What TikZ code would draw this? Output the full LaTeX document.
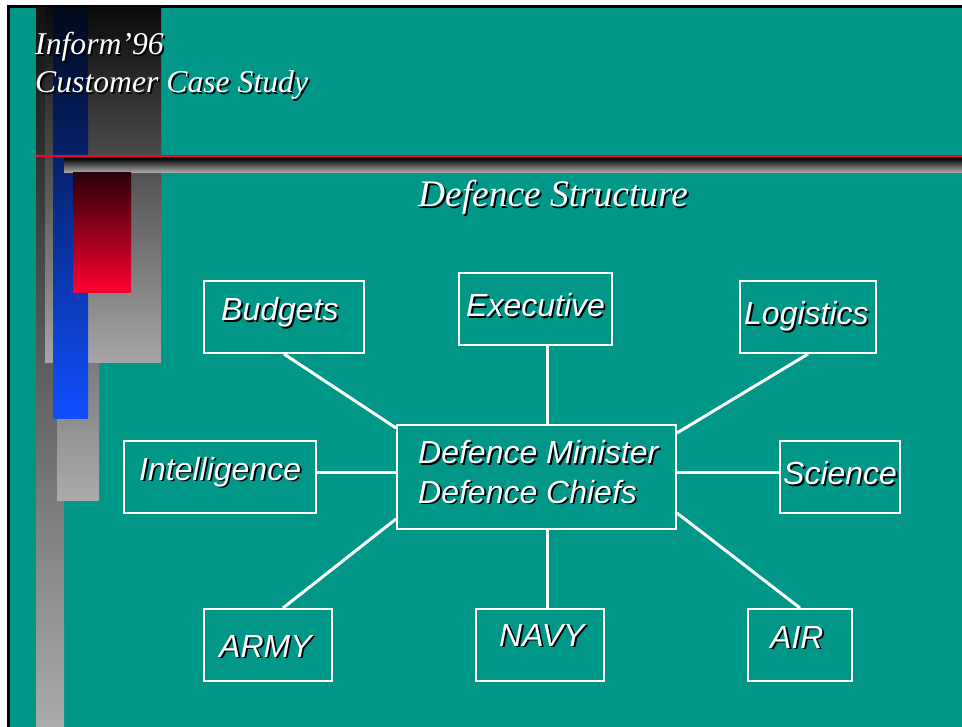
\documentclass[tikz,border=0pt]{standalone}
\usepackage{fontspec}
\setmainfont{Liberation Serif}
\newfontfamily\boxfont{Liberation Sans}
\usetikzlibrary{calc}
\definecolor{SlideClr}{RGB}{0,150,136}
\definecolor{RuleClr}{RGB}{255,0,48}
\definecolor{NavyTopClr}{RGB}{0,8,26}
\definecolor{NavyBotClr}{RGB}{17,80,255}
\definecolor{WineTopClr}{RGB}{42,0,8}

% white text with a black drop shadow
\newcommand{\shadowed}[1]{\makebox[0pt][l]{\hspace*{1.8pt}\raisebox{-1.8pt}{\color{black}#1}}#1}

\begin{document}
\begin{tikzpicture}[x=1pt,y=-1pt,
  box/.style={draw=white,line width=2pt,inner sep=0pt,minimum height=72pt},
  boxtext/.style={anchor=base west,inner sep=0pt,text=white,font=\boxfont\itshape\fontsize{32}{38}\selectfont},
  titletext/.style={anchor=base west,inner sep=0pt,text=white,font=\itshape\fontsize{31.7}{38}\selectfont},
  link/.style={white,line width=3pt}]
\useasboundingbox (0,0) rectangle (962,727);

% Slide background and frame.
\fill[white] (0,0) rectangle (962,727);
\filldraw[fill=SlideClr,draw=black,line width=2.5pt] (8.5,6.5) rectangle (990,750);

% Grey and coloured bars down the left side.
\shade[top color=black!93,bottom color=black!33] (36,8) rectangle (64,727);
\shade[top color=black!67,bottom color=black!33] (57,250) rectangle (99,500);
\shade[top color=black!96,bottom color=black!35] (45,8) rectangle (161,363);
\shade[top color=NavyTopClr,bottom color=NavyBotClr] (53,8) rectangle (88,419);

% Red rule and shaded bar under the heading.
\fill[RuleClr] (36,155) rectangle (962,157.5);
\shade[top color=black,bottom color=black!30] (64,158) rectangle (962,173);
\shade[top color=WineTopClr,bottom color=RuleClr] (73,173) rectangle (131,293);

% Headings.
\node[titletext] (inform) at (35,55) {\shadowed{Inform’96}};
\node[titletext] (study) at (35,93) {\shadowed{Customer Case Study}};
\node[titletext,font=\itshape\fontsize{37.4}{44}\selectfont] (structure) at (418,207) {\shadowed{Defence Structure}};

% Boxes of the chart.
\node[box,minimum width=160pt] (budgets) at (284,317) {};
\node[box,minimum width=153pt] (executive) at (535.5,309) {};
\node[box,minimum width=136pt] (logistics) at (808,317) {};
\node[box,minimum width=192pt] (intelligence) at (220,477) {};
\node[box,minimum width=279pt,minimum height=104pt] (chief) at (536.5,477) {};
\node[box,minimum width=120pt] (science) at (840,477) {};
\node[box,minimum width=128pt] (army) at (268,645) {};
\node[box,minimum width=128pt] (navy) at (540,645) {};
\node[box,minimum width=104pt] (air) at (800,645) {};

% Box labels.
\node[boxtext] (budgets-t) at (221,321) {\shadowed{Budgets}};
\node[boxtext] (executive-t) at (466,317) {\shadowed{Executive}};
\node[boxtext] (logistics-t) at (744,325) {\shadowed{Logistics}};
\node[boxtext] (intelligence-t) at (139,480) {\shadowed{Intelligence}};
\node[boxtext] (minister-t) at (418,464) {\shadowed{Defence Minister}};
\node[boxtext] (chiefs-t) at (418,503) {\shadowed{Defence Chiefs}};
\node[boxtext] (science-t) at (783,485) {\shadowed{Science}};
\node[boxtext] (army-t) at (219,657) {\shadowed{ARMY}};
\node[boxtext] (navy-t) at (499,646) {\shadowed{NAVY}};
\node[boxtext] (air-t) at (770,648) {\shadowed{AIR}};

% Spokes from the centre box.
\coordinate (axis) at (547,0);
\coordinate (level) at (0,472);
\draw[link] (budgets.south) -- ([yshift=-4pt]chief.north west);
\draw[link] (executive.south -| axis) -- (chief.north -| axis);
\draw[link] (logistics.south) -- ([yshift=-9pt]chief.north east);
\draw[link] (intelligence.east |- level) -- (chief.west |- level);
\draw[link] (chief.east |- level) -- (science.west |- level);
\draw[link] ([xshift=15pt]army.north) -- ([yshift=11pt]chief.south west);
\draw[link] (chief.south -| axis) -- (navy.north -| axis);
\draw[link] ([yshift=17pt]chief.south east) -- (air.north);

\end{tikzpicture}
\end{document}
